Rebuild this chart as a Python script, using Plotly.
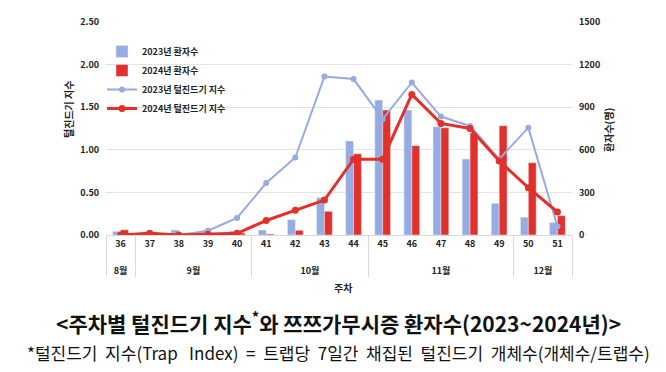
import plotly.graph_objects as go

weeks = ["36", "37", "38", "39", "40", "41", "42", "43", "44", "45", "46", "47", "48", "49", "50", "51"]
months = ["8월", "9월", "9월", "9월", "9월", "10월", "10월", "10월", "10월",
          "11월", "11월", "11월", "11월", "11월", "12월", "12월"]

patients_2023 = [26, 23, 35, 20, 28, 35, 108, 263, 662, 950, 880, 762, 535, 223, 125, 87]
patients_2024 = [37, 20, 5, 10, 15, 7, 33, 167, 572, 880, 629, 755, 720, 770, 509, 136]
index_2023 = [0.0, 0.02, 0.0, 0.05, 0.20, 0.61, 0.91, 1.86, 1.83, 1.36, 1.79, 1.39, 1.28, 0.89, 1.26, 0.10]
index_2024 = [0.0, 0.02, 0.0, 0.01, 0.02, 0.17, 0.29, 0.41, 0.89, 0.89, 1.65, 1.31, 1.25, 0.87, 0.555, 0.27]

names = ["2023년 환자수", "2024년 환자수", "2023년 털진드기 지수", "2024년 털진드기 지수"]

BLUE = "#95ABE2"
RED = "#E2302A"
FONT = "Noto Sans CJK KR"

# outer level (month) labels get a leading line break so they sit lower, as in the reference
x = [["<br>" + m for m in months], weeks]

fig = go.Figure()
fig.add_trace(go.Bar(x=x, y=patients_2023, name=names[0], marker_color=BLUE, yaxis="y"))
fig.add_trace(go.Bar(x=x, y=patients_2024, name=names[1], marker_color=RED, yaxis="y"))
fig.add_trace(go.Scatter(x=x, y=index_2023, name=names[2], mode="lines+markers",
                         line=dict(color=BLUE, width=2), marker=dict(size=6, color=BLUE), yaxis="y2"))
fig.add_trace(go.Scatter(x=x, y=index_2024, name=names[3], mode="lines+markers",
                         line=dict(color=RED, width=3), marker=dict(size=7, color=RED), yaxis="y2"))

tickfont = dict(family=FONT, size=9, color="#222222", weight="bold")

L, R, T, B, W, H = 106, 94, 22, 137, 666, 372
pw, ph = W - L - R, H - T - B


def px(xp):
    return (xp - L) / pw


def py(yp):
    return (H - B - yp) / ph


def ann(text, xp, yp, size, bold=True, angle=0, color="#222222"):
    f = dict(family=FONT, size=size, color=color)
    if bold:
        f["weight"] = "bold"
    return dict(text=text, x=px(xp), y=py(yp), xref="paper", yref="paper", showarrow=False,
                xanchor="center", yanchor="middle", textangle=angle, font=f)


fig.update_layout(
    width=W, height=H,
    margin=dict(l=L, r=R, t=T, b=B, autoexpand=False),
    paper_bgcolor="white", plot_bgcolor="white",
    barmode="group", bargap=0.46, bargroupgap=0,
    hovermode=False,
    showlegend=True,
    legend=dict(x=px(102), y=py(37), xanchor="left", yanchor="top",
                bgcolor="rgba(0,0,0,0)", font=dict(family=FONT, size=9, color="#222222", weight="bold"),
                tracegroupgap=0, itemwidth=30),
    xaxis=dict(type="multicategory", range=[-0.5, 15.5], tickfont=tickfont, showgrid=False,
               automargin=False, showline=True, linecolor="#D9D9D9", linewidth=1,
               showdividers=True, dividercolor="#D9D9D9", dividerwidth=1,
               ticks=""),
    yaxis=dict(range=[0, 1500], dtick=300, side="right", tickfont=tickfont, automargin=False,
               showgrid=True, gridcolor="#E3E3E3", gridwidth=1, zeroline=False,
               showline=False, ticks="", ticklabelstandoff=6),
    yaxis2=dict(range=[0, 2.5], dtick=0.5, tickformat=".2f", side="left", overlaying="y",
                tickfont=tickfont, showgrid=False, zeroline=False, showline=False, ticks="",
                automargin=False, ticklabelstandoff=6),
    annotations=[
        ann("털진드기 지수", 68, 110, 10, angle=-90),
        ann("환자수(명)", 608, 130, 10, angle=-90),
        ann("주차", 343, 287, 10),
        ann("<주차별 털진드기 지수<sup>*</sup>와 쯔쯔가무시증 환자수(2023~2024년)>", 338, 322, 21,
            color="#111111"),
        ann("*털진드기  지수(Trap   Index)  =  트랩당  7일간  채집된  털진드기  개체수(개체수/트랩수)",
            338, 352, 17, bold=False, color="#111111"),
    ],
)

fig.write_html("out.html", config={"displayModeBar": False},
               post_script="document.body.style.margin='0';")
